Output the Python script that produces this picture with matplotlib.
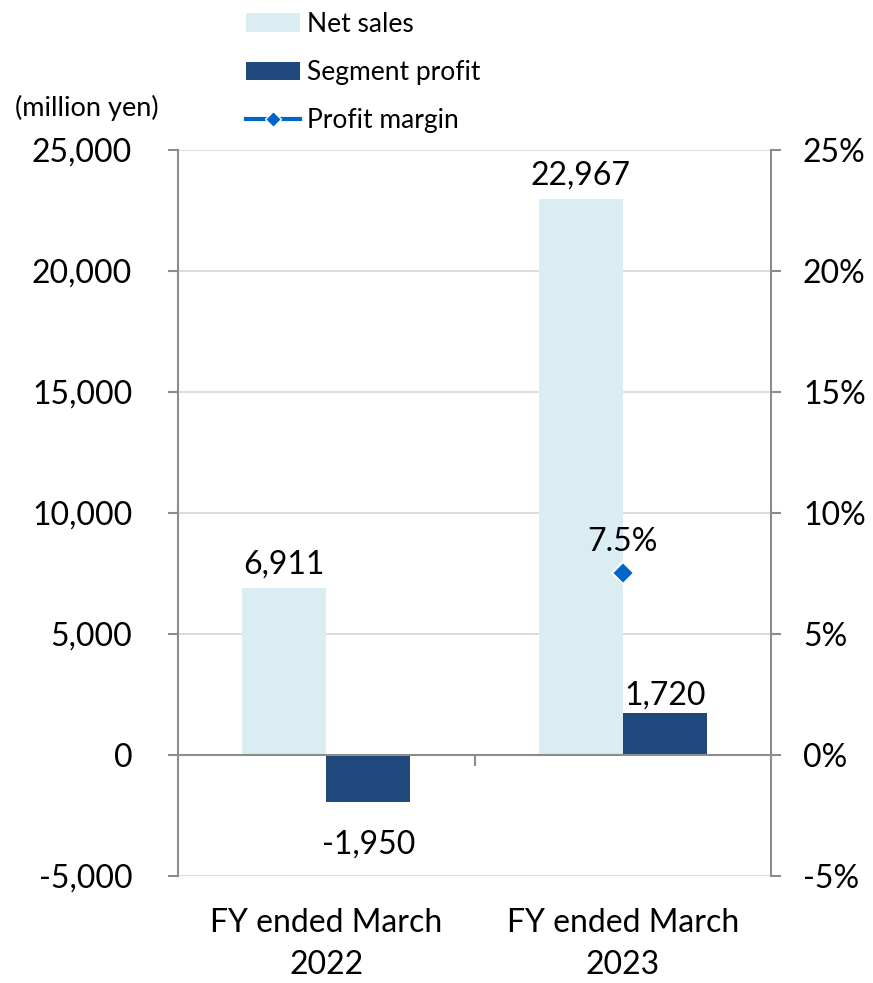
import numpy as np
import matplotlib
matplotlib.use("Agg")
import matplotlib.pyplot as plt
from matplotlib.patches import Patch
from matplotlib.lines import Line2D
from matplotlib.ticker import FuncFormatter

plt.rcParams['font.family'] = ['Lato', 'DejaVu Sans']

# data
years = ["FY ended March\n2022", "FY ended March\n2023"]
net_sales = [6911, 22967]
segment_profit = [-1950, 1720]
profit_margin = [np.nan, 7.5]  # 2022 margin (-28.2%) is off the axis range

sales_color = "#DAEDF3"
profit_color = "#1F497D"
margin_color = "#0066CC"
axis_gray = "#8C8C8C"
grid_gray = "#D9D9D9"

fig = plt.figure(figsize=(8.73, 9.83), dpi=100)
ax = fig.add_axes([0.2039, 0.1089, 0.6793, 0.7385])
ax2 = ax.twinx()

x = np.arange(len(years))
w = 0.283

ax.set_ylim(-5000, 25000)
ax.set_xlim(-0.5, 1.5)
ax.set_yticks(np.arange(-5000, 25001, 5000))
ax.yaxis.grid(True, color=grid_gray, linewidth=1.3)
ax.set_axisbelow(True)

b1 = ax.bar(x - w / 2, net_sales, w, color=sales_color, zorder=2)
b2 = ax.bar(x + w / 2, segment_profit, w, color=profit_color, zorder=2)

# zero line acts as the category axis
ax.axhline(0, color=axis_gray, linewidth=1.5, zorder=3)
ax.plot([0.5, 0.5], [0, -420], color=axis_gray, linewidth=1.5, zorder=3, clip_on=False)

for xi, v in zip(x - w / 2, net_sales):
    ax.annotate(f"{v:,}", (xi, v), xytext=(0, 6), textcoords="offset points",
                ha="center", va="bottom", fontsize=23)
for xi, v in zip(x + w / 2, segment_profit):
    if v >= 0:
        ax.annotate(f"{v:,}", (xi, v), xytext=(0, 2), textcoords="offset points",
                    ha="center", va="bottom", fontsize=23)
    else:
        ax.annotate(f"{v:,}", (xi, v), xytext=(0, -20), textcoords="offset points",
                    ha="center", va="top", fontsize=23)

ax.yaxis.set_major_formatter(FuncFormatter(lambda v, p: f"{int(v):,}"))
ax.tick_params(axis="y", labelsize=23, length=7, width=1.5, color=axis_gray,
               direction="out", pad=26)
ax.set_xticks(x)
ax.set_xticklabels(years, fontsize=23, linespacing=1.5)
ax.tick_params(axis="x", length=0, pad=23)

for s in ["top", "bottom"]:
    ax.spines[s].set_visible(False)
    ax2.spines[s].set_visible(False)
ax.spines["left"].set_color(axis_gray)
ax.spines["left"].set_linewidth(1.5)
ax2.spines["left"].set_visible(False)
ax2.spines["right"].set_color(axis_gray)
ax2.spines["right"].set_linewidth(1.5)
ax.spines["right"].set_visible(False)

# profit margin on secondary axis
ax2.set_ylim(-5, 25)
ax2.set_yticks(np.arange(-5, 26, 5))
ax2.yaxis.set_major_formatter(FuncFormatter(lambda v, p: f"{int(v)}%"))
ax2.tick_params(axis="y", labelsize=23, length=7, width=1.5, color=axis_gray,
                direction="out", pad=16)
ax2.plot(x, profit_margin, color=margin_color, linewidth=3, marker="D",
         markersize=11, markeredgecolor="white", markeredgewidth=1.5, zorder=4)
for xi, m in zip(x, profit_margin):
    if not np.isnan(m):
        ax2.annotate(f"{m}%", (xi, m), xytext=(0, 12), textcoords="offset points",
                     ha="center", va="bottom", fontsize=23)

ax.text(-0.275, 1.04, "(million yen)", transform=ax.transAxes, fontsize=19.5,
        ha="left", va="bottom")

handles = [
    Patch(facecolor=sales_color, edgecolor="none"),
    Patch(facecolor=profit_color, edgecolor="none"),
    Line2D([], [], color=margin_color, linewidth=3, marker="D", markersize=8,
           markeredgecolor="white", markeredgewidth=1),
]
labels = ["Net sales", "Segment profit", "Profit margin"]
fig.legend(handles, labels, loc="upper left", bbox_to_anchor=(0.268, 1.0),
           frameon=False, fontsize=19, handlelength=2.05, handleheight=0.7,
           handletextpad=0.25, labelspacing=0.88, borderaxespad=0.05)

fig.savefig("out.png", dpi=100)
